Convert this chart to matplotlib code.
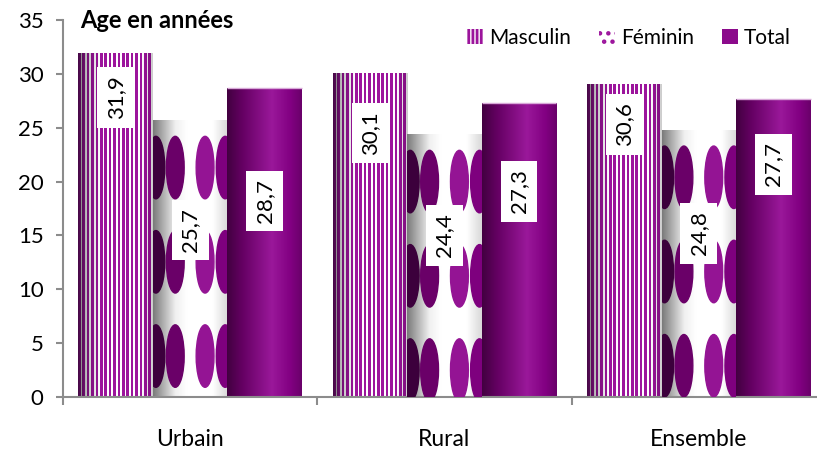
import numpy as np
import matplotlib
matplotlib.use('Agg')
import matplotlib.pyplot as plt
from matplotlib.patches import Ellipse, Patch
from matplotlib.colors import to_rgb

plt.rcParams['font.family'] = ['Lato', 'DejaVu Sans']

categories = ['Urbain', 'Rural', 'Ensemble']
series = ['Masculin', 'Féminin', 'Total']
# bar heights as drawn in the picture
masculin = [31.9, 30.1, 29.1]
feminin = [25.7, 24.4, 24.8]
total = [28.7, 27.3, 27.7]
# value labels printed on the bars
lab_masculin = ['31,9', '30,1', '30,6']
lab_feminin = ['25,7', '24,4', '24,8']
lab_total = ['28,7', '27,3', '27,7']

# where the label boxes sit (data y of the box centre)
label_y = [[27.8, 24.5, 25.3], [15.5, 15.0, 15.2], [18.2, 19.1, 21.6]]

purple = '#8b0a8b'


def gradient(stops, n=200):
    xs = np.linspace(0, 1, n)
    pos = [s[0] for s in stops]
    cols = np.array([to_rgb(s[1]) for s in stops])
    return np.stack([np.interp(xs, pos, cols[:, i]) for i in range(3)], axis=-1)


total_grad = gradient([(0, '#420040'), (0.2, '#640062'), (0.6, '#9a189a'),
                       (0.85, '#820082'), (1, '#6a006a')])
fem_grad = gradient([(0, '#7a7a7a'), (0.3, '#f0f0f0'), (0.45, '#ffffff'),
                     (0.8, '#ffffff'), (1, '#d8d8d8')])

# vertical stripes for Masculin
n = 300
xs = np.linspace(0, 1, n)
stripe = ((xs * 17) % 1) < 0.6
shade = np.interp(xs, [0, 0.12, 0.3, 0.85, 1], [0.45, 0.75, 1.0, 1.0, 0.8])
purple_rgb = np.array(to_rgb('#9c149c'))
masc_img = np.where(stripe[:, None], purple_rgb[None, :], np.ones(3)[None, :])
masc_img = np.clip(masc_img * shade[:, None], 0, 1)

fig = plt.figure(figsize=(8.17, 4.5), dpi=100)
ax = fig.add_axes([63 / 817, 53 / 450, (826 - 63) / 817, (397 - 20) / 450])

x = np.arange(len(categories))
w = 0.293
data = [masculin, feminin, total]
labels = [lab_masculin, lab_feminin, lab_total]

for k, vals in enumerate(data):
    bars = ax.bar(x + (k - 1) * w, vals, w, color='none', edgecolor='none', zorder=2)
    for j, p in enumerate(bars.patches):
        x0, bw, h = p.get_x(), p.get_width(), p.get_height()
        if k == 0:
            img = masc_img[None, :, :]
            interp = 'nearest'
        elif k == 1:
            img = fem_grad[None, :, :]
            interp = 'bilinear'
        else:
            img = total_grad[None, :, :]
            interp = 'bilinear'
        im = ax.imshow(img, extent=(x0, x0 + bw, 0, h), aspect='auto',
                       interpolation=interp, zorder=2)
        im.set_clip_path(p)
        if k == 1:
            ecols = ['#3c003c', '#6a0068', '#941494', '#7e007e']
            erel = [0.04, 0.30, 0.70, 0.97]
            cy = h - 1.5 - 2.9
            while cy > -3:
                for ec, er in zip(ecols, erel):
                    e = Ellipse((x0 + er * bw, cy), 0.07, 5.8, color=ec, zorder=3)
                    ax.add_patch(e)
                    e.set_clip_path(p)
                cy -= 8.75
        if k == 2:
            ax.plot([x0, x0 + bw], [h, h], color='#d8a8d8', lw=1, zorder=3,
                    solid_capstyle='butt')
        ax.text(x0 + bw / 2, label_y[k][j], labels[k][j], rotation=90,
                ha='center', va='center', fontsize=16, zorder=5,
                bbox=dict(boxstyle='square,pad=0.38', fc='white', ec='none'))

ax.set_xlim(-0.5, 2.5)
ax.set_ylim(0, 35)
ax.set_yticks(np.arange(0, 36, 5))
ax.set_xticks([-0.5, 0.5, 1.5, 2.5])
ax.set_xticklabels([])
ax.set_xticks(x, minor=True)
ax.set_xticklabels(categories, minor=True)
ax.tick_params(axis='x', which='major', length=6, width=1.5, color='#8c8c8c', direction='out')
ax.tick_params(axis='x', which='minor', length=0, pad=23, labelsize=16.5)
ax.tick_params(axis='y', length=5, width=1.5, color='#8c8c8c', labelsize=16, pad=9)
for s in ['top', 'right']:
    ax.spines[s].set_visible(False)
for s in ['left', 'bottom']:
    ax.spines[s].set_color('#8c8c8c')
    ax.spines[s].set_linewidth(1.5)

fig.text(80 / 817, 1 - 21 / 450, 'Age en années', fontsize=17, fontweight='bold',
         ha='left', va='center')

plt.rcParams['hatch.linewidth'] = 2.0
handles = [Patch(facecolor='white', edgecolor='#9c149c', hatch='||||', lw=0, label='Masculin'),
           Patch(facecolor='white', edgecolor='#9c149c', hatch='..', lw=0, label='Féminin'),
           Patch(facecolor=purple, edgecolor='none', label='Total')]
fig.legend(handles=handles, ncol=3, loc='center right', bbox_to_anchor=(791 / 817, 1 - 38 / 450),
           frameon=False, fontsize=15, handlelength=0.75, handleheight=0.75,
           handletextpad=0.3, columnspacing=1.35, borderpad=0, borderaxespad=0)

fig.savefig('out.png', dpi=100)
